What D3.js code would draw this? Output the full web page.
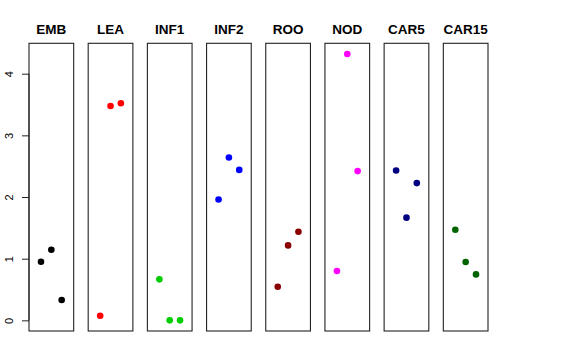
<!DOCTYPE html>
<html>
<head>
<meta charset="utf-8">
<script src="https://cdn.jsdelivr.net/npm/d3@7"></script>
<style>
  html, body { margin: 0; padding: 0; background: #fff; }
  svg { display: block; }
  text { font-family: "Liberation Sans", Arial, Helvetica, sans-serif; }
</style>
</head>
<body>
<svg id="chart" width="576" height="360"></svg>
<script>
// ---- data ----
const categories = ["EMB", "LEA", "INF1", "INF2", "ROO", "NOD", "CAR5", "CAR15"];
const colors = ["#000000", "#FF0000", "#00CD00", "#0000FF", "#8B0000", "#FF00FF", "#000080", "#006400"];
const replicates = [1, 2, 3];
const EMB   = [0.95, 1.145, 0.33];
const LEA   = [0.075, 3.475, 3.52];
const INF1  = [0.665, 0.0, 0.0];
const INF2  = [1.96, 2.64, 2.44];
const ROO   = [0.545, 1.215, 1.437];
const NOD   = [0.80, 4.32, 2.42];
const CAR5  = [2.43, 1.665, 2.226];
const CAR15 = [1.47, 0.945, 0.745];
const yTicks = [0, 1, 2, 3, 4];

const seriesValues = [EMB, LEA, INF1, INF2, ROO, NOD, CAR5, CAR15];

// ---- layout ----
const svg = d3.select("#chart");
const plotTop = 43.3, plotBottom = 331;
const plotLeft = 29, plotRight = 488;

const allVals = seriesValues.flat();
const yMin = d3.min(allVals), yMax = d3.max(allVals);
const ySpan = yMax - yMin;
const y = d3.scaleLinear()
  .domain([yMin - 0.04 * ySpan, yMax + 0.04 * ySpan])
  .range([plotBottom, plotTop]);

const band = d3.scaleBand()
  .domain(categories)
  .range([plotLeft, plotRight])
  .paddingInner(0.245)
  .paddingOuter(0);

const bw = band.bandwidth();
const xIn = d3.scaleLinear().domain([-0.16, 4.16]).range([0, bw]);

// panels
categories.forEach((cat, i) => {
  const g = svg.append("g").attr("transform", `translate(${band(cat)},0)`);
  g.append("rect")
    .attr("x", 0).attr("y", plotTop)
    .attr("width", bw).attr("height", plotBottom - plotTop)
    .attr("fill", "none")
    .attr("stroke", "#222")
    .attr("stroke-width", 1.1);
  g.append("text")
    .attr("x", bw / 2).attr("y", 34)
    .attr("text-anchor", "middle")
    .attr("font-size", "13.5px")
    .attr("font-weight", "bold")
    .text(cat);
  g.selectAll("circle")
    .data(seriesValues[i].map((v, j) => ({ x: replicates[j], v })))
    .enter().append("circle")
    .attr("cx", d => xIn(d.x))
    .attr("cy", d => y(d.v))
    .attr("r", 3.3)
    .attr("fill", colors[i]);
});

// y axis
const axisG = svg.append("g").attr("transform", `translate(${plotLeft},0)`);
const axis = d3.axisLeft(y).tickValues(yTicks).tickSize(7).tickPadding(8)
  .tickFormat(d3.format("d"));
axisG.call(axis);
axisG.select(".domain").remove();
axisG.append("line")
  .attr("x1", 0).attr("x2", 0)
  .attr("y1", y(0)).attr("y2", y(4))
  .attr("stroke", "#222");
axisG.selectAll(".tick line").attr("stroke", "#222");
axisG.selectAll(".tick text")
  .attr("font-size", "11px")
  .attr("font-family", "Liberation Sans, Arial, sans-serif")
  .attr("fill", "#000")
  .attr("text-anchor", "middle")
  .attr("x", null).attr("dy", null)
  .attr("transform", "translate(-20,0) rotate(-90)")
  .attr("dominant-baseline", "central");
</script>
</body>
</html>
